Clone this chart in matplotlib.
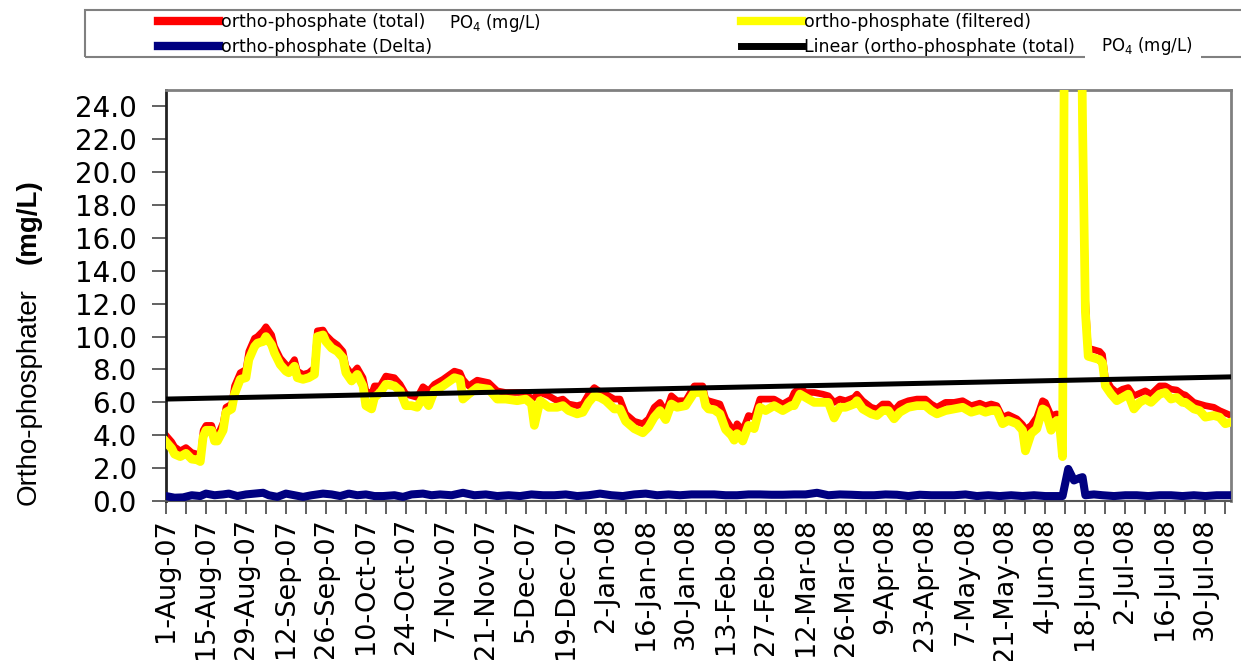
import matplotlib
matplotlib.use('Agg')
import matplotlib.pyplot as plt
import matplotlib.ticker as mticker
import matplotlib.dates as mdates
from matplotlib.patches import Rectangle
from matplotlib.lines import Line2D
import numpy as np
import pandas as pd

W, H = 1241, 661

# start of the record and right edge of the axis
start = pd.Timestamp('2007-08-01')
end = pd.Timestamp('2008-08-08')

# sample days (offset from 1-Aug-07) for total and filtered ortho-phosphate
days = [0, 2, 3, 5, 7, 9, 11, 12, 13, 14, 16, 17, 18, 20, 21, 23, 24, 26, 28, 29,
        31, 32, 34, 35, 37, 38, 40, 42, 43, 45, 46, 48, 50, 52, 53, 55, 56, 58, 60, 62,
        63, 65, 67, 69, 70, 72, 73, 75, 77, 80, 82, 84, 86, 88, 90, 92, 94, 97, 101, 103,
        104, 106, 109, 113, 116, 119, 123, 126, 128, 129, 131, 134, 137, 139, 141, 144, 146, 148, 150, 152,
        154, 157, 159, 161, 164, 167, 169, 171, 173, 175, 177, 179, 182, 185, 188, 189, 190, 192, 194, 196,
        198, 199, 200, 202, 204, 206, 208, 210, 213, 216, 219, 220, 222, 224, 227, 230, 232, 234, 236, 238,
        241, 242, 244, 247, 249, 251, 253, 255, 257, 260, 263, 266, 268, 270, 273, 276, 279, 282, 285, 287,
        289, 291, 293, 295, 298, 300, 301, 303, 305, 307, 308, 310, 312, 313, 314, 315, 320, 321, 322, 323,
        325, 327, 328, 329, 331, 333, 335, 337, 339, 341, 343, 345, 348, 350, 352, 354, 356, 357, 360, 362,
        364, 367, 369, 371, 373]

total = [4.0, 3.6, 3.3, 3.05, 3.25, 2.95, 2.85, 2.6, 4.3, 4.6, 4.6, 4.0, 3.95, 4.75, 5.7, 5.9, 7.0, 7.8, 8.0, 9.1,
         9.9, 10.0, 10.35, 10.6, 10.1, 9.4, 8.7, 8.3, 8.1, 8.6, 7.9, 7.7, 7.8, 8.1, 10.35, 10.4, 10.1, 9.75, 9.5, 9.1,
         8.2, 7.7, 8.1, 7.5, 6.7, 6.5, 7.0, 7.0, 7.6, 7.5, 7.1, 6.5, 6.4, 6.3, 6.95, 6.7, 7.1, 7.4, 7.9, 7.8,
         7.4, 7.0, 7.35, 7.2, 6.7, 6.6, 6.6, 6.6, 6.2, 6.3, 6.6, 6.4, 6.1, 6.2, 5.9, 5.8, 5.9, 6.5, 6.9, 6.65,
         6.5, 6.2, 6.2, 5.3, 4.85, 4.7, 5.0, 5.7, 6.0, 5.4, 6.4, 6.1, 6.1, 7.0, 7.0, 6.2, 6.1, 6.0, 5.9, 5.0,
         4.45, 4.15, 4.7, 4.3, 5.2, 5.1, 6.2, 6.2, 6.2, 5.9, 6.2, 6.6, 6.9, 6.6, 6.6, 6.5, 6.4, 6.0, 6.2, 6.1,
         6.3, 6.5, 6.1, 5.7, 5.6, 5.9, 5.9, 5.5, 5.9, 6.1, 6.2, 6.2, 5.9, 5.7, 6.0, 6.0, 6.1, 5.8, 5.95, 5.8,
         5.9, 5.8, 5.1, 5.25, 5.0, 4.65, 4.35, 4.6, 5.1, 6.1, 6.0, 5.2, 5.3, 5.2, 3.0, 45.0, 42.0, 24.0, 12.5, 9.3,
         9.2, 9.1, 8.9, 7.5, 6.9, 6.6, 6.8, 6.9, 6.4, 6.55, 6.7, 6.5, 7.0, 7.0, 6.8, 6.75, 6.5, 6.45, 6.0, 5.9,
         5.8, 5.7, 5.5, 5.35, 5.2]

filtered = [3.6, 3.2, 2.85, 2.7, 2.9, 2.55, 2.5, 2.4, 3.9, 4.3, 4.3, 3.65, 3.65, 4.3, 5.4, 5.6, 6.5, 7.4, 7.5, 8.6,
            9.4, 9.6, 9.7, 10.0, 9.5, 9.0, 8.3, 7.9, 7.8, 8.2, 7.5, 7.4, 7.5, 7.7, 10.0, 10.1, 9.7, 9.3, 9.1, 8.7,
            7.8, 7.3, 7.7, 7.0, 5.8, 5.6, 6.3, 6.6, 7.1, 7.0, 6.7, 5.8, 5.8, 5.7, 6.3, 5.8, 6.7, 7.0, 7.5, 7.4,
            6.2, 6.5, 6.9, 6.8, 6.2, 6.2, 6.1, 6.2, 5.9, 4.6, 6.1, 5.7, 5.7, 5.8, 5.5, 5.3, 5.4, 6.0, 6.4, 6.3,
            6.1, 5.6, 5.6, 4.85, 4.4, 4.15, 4.5, 5.1, 5.5, 4.95, 5.9, 5.7, 5.8, 6.6, 6.6, 5.8, 5.6, 5.55, 5.3, 4.35,
            4.0, 3.7, 4.1, 3.65, 4.6, 4.4, 5.7, 5.5, 5.8, 5.5, 5.8, 5.8, 6.5, 6.3, 6.0, 6.0, 6.0, 5.05, 5.7, 5.7,
            5.9, 6.1, 5.6, 5.3, 5.2, 5.5, 5.5, 5.0, 5.4, 5.7, 5.8, 5.8, 5.5, 5.3, 5.5, 5.6, 5.7, 5.4, 5.55, 5.4,
            5.5, 5.5, 4.7, 4.9, 4.7, 4.3, 3.05, 4.1, 4.4, 5.6, 5.5, 4.3, 4.9, 4.6, 2.7, 44.0, 40.0, 23.0, 11.5, 8.8,
            8.7, 8.6, 8.4, 7.0, 6.5, 6.1, 6.3, 6.5, 5.6, 6.0, 6.2, 6.0, 6.5, 6.6, 6.2, 6.3, 6.0, 6.0, 5.6, 5.5,
            5.1, 5.2, 5.1, 4.7, 4.8]

delta_days = [0, 3, 6, 9, 12, 14, 17, 20, 22, 25, 28, 31, 34, 36, 39, 42, 45, 48, 51, 55,
              58, 61, 64, 67, 70, 73, 76, 80, 83, 86, 90, 93, 96, 100, 104, 108, 112, 116, 120, 124,
              128, 132, 136, 140, 144, 148, 152, 156, 160, 164, 168, 172, 176, 180, 184, 188, 192, 196, 200, 204,
              208, 212, 216, 220, 224, 228, 232, 236, 240, 244, 248, 252, 256, 260, 264, 268, 272, 276, 280, 284,
              288, 292, 296, 300, 304, 308, 312, 314, 316, 318, 320, 321, 322, 325, 328, 332, 336, 340, 344, 348,
              352, 356, 360, 364, 368, 373]

delta = [0.3, 0.2, 0.22, 0.35, 0.3, 0.45, 0.35, 0.4, 0.45, 0.3, 0.4, 0.45, 0.5, 0.35, 0.25, 0.45, 0.35, 0.25, 0.35, 0.45,
         0.4, 0.3, 0.45, 0.35, 0.4, 0.3, 0.3, 0.35, 0.25, 0.4, 0.45, 0.35, 0.4, 0.35, 0.5, 0.35, 0.4, 0.3, 0.35, 0.3,
         0.4, 0.35, 0.35, 0.4, 0.3, 0.35, 0.45, 0.35, 0.3, 0.4, 0.45, 0.35, 0.4, 0.35, 0.4, 0.4, 0.4, 0.35, 0.35, 0.4,
         0.4, 0.38, 0.38, 0.4, 0.4, 0.5, 0.35, 0.4, 0.38, 0.35, 0.35, 0.4, 0.38, 0.3, 0.38, 0.35, 0.35, 0.35, 0.4, 0.3,
         0.35, 0.3, 0.35, 0.3, 0.35, 0.3, 0.3, 0.3, 1.95, 1.25, 1.4, 1.45, 0.35, 0.4, 0.35, 0.3, 0.35, 0.35, 0.3, 0.35,
         0.35, 0.3, 0.35, 0.3, 0.35, 0.35]

# Excel linear trendline of the total series (end points)
trend_days = [0, 373]
trend = [6.2, 7.55]

to_dates = lambda d: start + pd.to_timedelta(d, unit='D')

fig = plt.figure(figsize=(W / 100, H / 100), dpi=100)
ax = fig.add_axes([166 / W, 1 - 501 / H, (1231 - 166) / W, (501 - 90) / H])

ax.plot(to_dates(days), total, color='#FF0000', lw=4.8, solid_joinstyle='round', zorder=2)
ax.plot(to_dates(days), filtered, color='#FFFF00', lw=6.3, solid_joinstyle='round', zorder=3)
ax.plot(to_dates(delta_days), delta, color='#000080', lw=5.8, solid_joinstyle='round', zorder=4)
ax.plot(to_dates(trend_days), trend, color='black', lw=3.6, zorder=5)

ax.set_xlim(start, end)
ax.set_ylim(0, 25)
ax.set_yticks(np.arange(0, 25, 2))
ax.yaxis.set_major_formatter(mticker.FormatStrFormatter('%.1f'))

major = pd.date_range(start, end, freq='14D')
minor = pd.date_range(start, end, freq='7D')
ax.set_xticks(major)
ax.set_xticks(minor, minor=True)
ax.xaxis.set_major_formatter(mticker.FuncFormatter(
    lambda x, pos: (lambda d: f"{d.day}-{d.strftime('%b-%y')}")(mdates.num2date(x))))

ax.tick_params(axis='x', which='both', direction='out', length=9, width=1.3, color='#555555',
               labelrotation=90, labelsize=19.5, pad=3)
ax.tick_params(axis='y', direction='out', length=10, width=1.3, color='#555555', labelsize=20, pad=11)

for side in ['top', 'right']:
    ax.spines[side].set_color('#808080')
    ax.spines[side].set_linewidth(2)
ax.spines['left'].set_color('#222222')
ax.spines['left'].set_linewidth(2)
ax.spines['bottom'].set_color('#555555')
ax.spines['bottom'].set_linewidth(1.5)

# y axis title, normal part and bold unit
fig.text(29 / W, 1 - 397 / H, 'Ortho-phosphater', rotation=90, ha='center', va='center',
         fontsize=20, family='Liberation Sans')
fig.text(29 / W, 1 - 222 / H, '(mg/L)', rotation=90, ha='center', va='center',
         fontsize=20, fontweight='bold', family='Liberation Sans')

# legend, two columns
h_total = Line2D([], [], color='#FF0000', lw=6)
h_filt = Line2D([], [], color='#FFFF00', lw=6)
h_delta = Line2D([], [], color='#000080', lw=6)
h_trend = Line2D([], [], color='black', lw=5)
leg_kw = dict(loc='upper left', frameon=False, fontsize=12.5, borderpad=0, borderaxespad=0,
              handlelength=3.5, handletextpad=0.12, labelspacing=0.42)
fig.legend([h_total, h_delta], ['ortho-phosphate (total)', 'ortho-phosphate (Delta)'],
           bbox_to_anchor=(158 / W, 1 - 13 / H), **leg_kw)
fig.legend([h_filt, h_trend], ['ortho-phosphate (filtered)', 'Linear (ortho-phosphate (total)'],
           bbox_to_anchor=(741 / W, 1 - 13 / H), **leg_kw)
fig.text(449 / W, 1 - 23 / H, r'PO$_4$ (mg/L)', fontsize=12, va='center')
fig.text(1101 / W, 1 - 46 / H, r'PO$_4$ (mg/L)', fontsize=12, va='center')

fig.add_artist(Rectangle((85 / W, 1 - 57 / H), 1.0, 47 / H, transform=fig.transFigure,
                         fill=False, ec='#808080', lw=1.5, zorder=1))
fig.add_artist(Rectangle((1085 / W, 1 - 61 / H), 116 / W, 8 / H, transform=fig.transFigure,
                         fc='white', ec='none', zorder=2))

fig.savefig('out.png', dpi=100)
